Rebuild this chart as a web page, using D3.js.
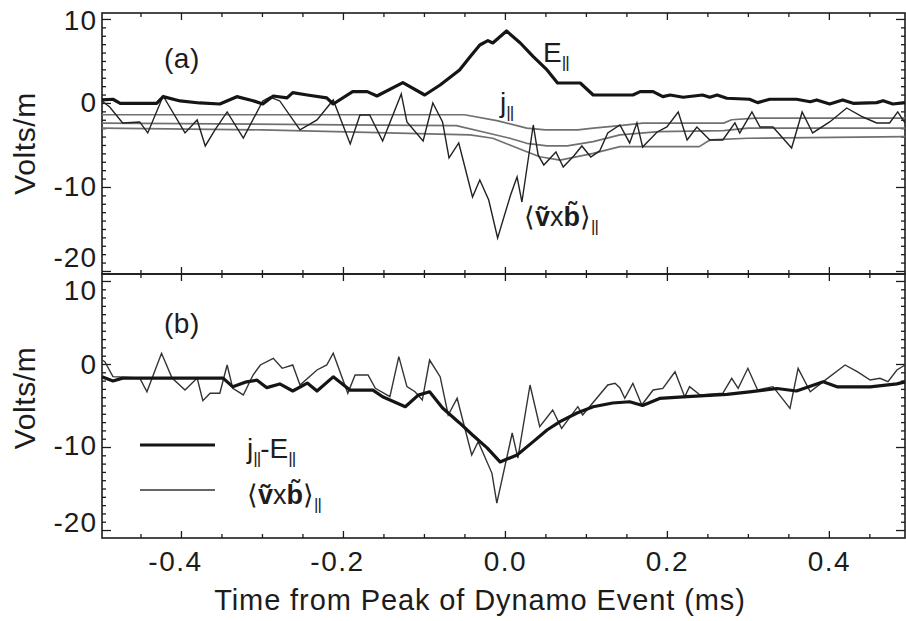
<!DOCTYPE html>
<html><head><meta charset="utf-8">
<script src="https://cdn.jsdelivr.net/npm/d3@7"></script>
<style>
body{margin:0;background:#fff}
svg{display:block}
text{font-family:"Liberation Sans",Arial,Helvetica,sans-serif;fill:#1c1c1c}
</style>
</head><body>
<svg id="c" width="906" height="621"></svg>
<script>
// ---- data: [time (ms), Volts/m] ----
const ePar = [[-0.4975,0.36],[-0.484,0.44],[-0.475,-0.04],[-0.43,-0.04],[-0.422,0.75],[-0.401,0.24],[-0.377,0],[-0.352,-0.12],[-0.331,0.75],[-0.311,0.27],[-0.299,-0.12],[-0.286,0.83],[-0.269,0.6],[-0.262,1.23],[-0.244,0.95],[-0.22,0.6],[-0.212,-0.12],[-0.188,1.35],[-0.17,1.35],[-0.158,0.83],[-0.126,2.42],[-0.099,0.95],[-0.08,2.14],[-0.056,3.93],[-0.043,5.51],[-0.031,6.9],[-0.021,7.42],[-0.015,7.14],[0.002,8.57],[0.019,7.14],[0.035,5.51],[0.052,3.93],[0.065,2.38],[0.093,2.38],[0.109,0.95],[0.158,0.95],[0.167,1.35],[0.183,1.35],[0.195,0.75],[0.204,0.95],[0.22,0.68],[0.244,0.95],[0.253,0.68],[0.262,0.95],[0.274,0.56],[0.302,0.44],[0.312,0.04],[0.327,0.44],[0.36,0.44],[0.377,0.15],[0.385,0.36],[0.401,-0.12],[0.417,0.36],[0.43,-0.04],[0.459,0.04],[0.467,0.27],[0.479,-0.12],[0.494,0.04]];

const jPar = [[-0.4975,-2.4],[-0.2,-2.6],[-0.06,-2.7],[-0.02,-3.6],[0.006,-4.2],[0.027,-4.8],[0.052,-5.1],[0.077,-5.1],[0.109,-4.6],[0.142,-3.8],[0.19,-3.4],[0.27,-3.3],[0.3,-3.0],[0.494,-3.0]];
const jParUpper = [[-0.4975,-1.4],[-0.05,-1.4],[-0.01,-2.1],[0.027,-3.0],[0.05,-3.2],[0.09,-3.2],[0.109,-3.0],[0.142,-2.7],[0.17,-2.4],[0.27,-2.4],[0.28,-2.0],[0.31,-1.8],[0.494,-1.8]];
const jParLower = [[-0.4975,-3.0],[-0.3,-3.2],[-0.17,-3.5],[-0.043,-3.8],[-0.015,-4.2],[0.006,-5.0],[0.027,-5.8],[0.043,-6.4],[0.068,-6.8],[0.109,-6.0],[0.142,-5.2],[0.24,-5.2],[0.253,-4.4],[0.3,-4.2],[0.494,-4.0]];

const vxbTop = [[-0.4975,0.24],[-0.488,-0.48],[-0.472,-2.38],[-0.451,-2.26],[-0.441,-3.57],[-0.422,0.83],[-0.395,-3.57],[-0.38,-2.02],[-0.37,-5.12],[-0.358,-3.21],[-0.343,-1.07],[-0.323,-4.17],[-0.299,0.24],[-0.29,0.71],[-0.278,0.24],[-0.253,-3.21],[-0.232,-2.02],[-0.212,0.36],[-0.191,-4.88],[-0.179,-1.43],[-0.167,-1.43],[-0.151,-4.52],[-0.128,1.07],[-0.121,-2.26],[-0.101,-4.52],[-0.089,0],[-0.077,-2.26],[-0.069,-6.55],[-0.057,-4.76],[-0.04,-11.19],[-0.031,-9.17],[-0.02,-11.55],[-0.009,-16.07],[0.007,-10.95],[0.015,-8.81],[0.021,-11.79],[0.035,-2.62],[0.041,-6.19],[0.048,-7.38],[0.063,-5.83],[0.072,-7.62],[0.085,-6.31],[0.095,-5.12],[0.106,-6.43],[0.117,-5.71],[0.127,-3.57],[0.142,-2.62],[0.154,-4.76],[0.163,-2.38],[0.17,-5.24],[0.188,-3.45],[0.2,-2.86],[0.214,-1.07],[0.225,-4.4],[0.237,-2.86],[0.253,-4.4],[0.269,-4.4],[0.284,-2.38],[0.29,-3.57],[0.305,-1.07],[0.315,-2.86],[0.331,-2.86],[0.354,-5.36],[0.367,-1.07],[0.38,-3.57],[0.401,-2.26],[0.422,-0.6],[0.442,-1.67],[0.459,-2.38],[0.475,-2.38],[0.485,-1.07],[0.494,-2.38]];

const jMinusE = [[-0.4975,-1.55],[-0.484,-2.05],[-0.472,-1.7],[-0.435,-1.7],[-0.405,-1.7],[-0.348,-1.7],[-0.336,-2.75],[-0.319,-2.15],[-0.306,-1.95],[-0.294,-2.85],[-0.278,-2.4],[-0.262,-3.25],[-0.244,-2.3],[-0.232,-3.25],[-0.212,-1.55],[-0.191,-3.15],[-0.163,-3.15],[-0.151,-3.95],[-0.123,-5.15],[-0.107,-3.75],[-0.093,-3.35],[-0.077,-5.3],[-0.056,-7.1],[-0.04,-8.55],[-0.022,-10.1],[-0.006,-11.8],[0.015,-10.95],[0.035,-9.35],[0.052,-7.95],[0.068,-6.95],[0.089,-5.9],[0.109,-5.15],[0.133,-4.7],[0.154,-4.55],[0.17,-5.0],[0.191,-4.15],[0.22,-3.95],[0.274,-3.65],[0.302,-3.35],[0.336,-2.95],[0.36,-3.25],[0.393,-2.15],[0.41,-2.75],[0.451,-2.75],[0.484,-2.4],[0.494,-2.15]];

const vxbBottom = [[-0.4975,0.48],[-0.494,0.28],[-0.484,-1.53],[-0.451,-1.69],[-0.442,-3.34],[-0.435,-1.53],[-0.424,1.29],[-0.411,-1.69],[-0.395,-3.13],[-0.38,-1.69],[-0.373,-4.42],[-0.364,-3.53],[-0.352,-3.53],[-0.343,-0.12],[-0.336,-2.93],[-0.323,-3.73],[-0.311,-1.33],[-0.302,-0.12],[-0.286,0.69],[-0.275,-0.52],[-0.262,-0.12],[-0.253,-2.53],[-0.232,-0.72],[-0.22,-0.12],[-0.212,1.29],[-0.194,-3.53],[-0.185,-1.33],[-0.169,-1.33],[-0.16,-2.93],[-0.142,-3.94],[-0.131,0.88],[-0.121,-2.73],[-0.111,-3.34],[-0.102,-4.34],[-0.093,0.48],[-0.08,-1.53],[-0.07,-6.14],[-0.059,-4.13],[-0.041,-10.96],[-0.033,-9.36],[-0.016,-13.17],[-0.01,-16.75],[0.009,-8.31],[0.016,-11.33],[0.031,-2.53],[0.043,-7.55],[0.059,-5.54],[0.07,-7.75],[0.09,-5.14],[0.096,-6.14],[0.127,-2.53],[0.136,-2.33],[0.142,-2.89],[0.148,-4.13],[0.158,-2.33],[0.169,-4.94],[0.183,-3.13],[0.195,-2.93],[0.21,-0.93],[0.222,-3.94],[0.228,-2.73],[0.241,-3.73],[0.269,-3.53],[0.28,-1.72],[0.288,-2.93],[0.3,-0.52],[0.312,-3.13],[0.331,-2.73],[0.352,-5.34],[0.362,-0.52],[0.377,-3.34],[0.393,-2.13],[0.42,-0.12],[0.435,-0.93],[0.451,-1.93],[0.463,-1.72],[0.473,-2.13],[0.484,-0.72],[0.494,-0.12]];

const xMajorTicks = [-0.4, -0.2, 0.0, 0.2, 0.4];
const xTickLabels = ["-0.4", "-0.2", "0.0", "0.2", "0.4"];
const yMajorTicks = [10, 0, -10, -20];
const yTickLabels = ["10", "0", "-10", "-20"];

// ---- layout ----
const svg = d3.select("#c");
const x = d3.scaleLinear().domain([-0.4975, 0.494]).range([102, 905]);
const panels = [
  {y: d3.scaleLinear().domain([-20.36, 10.71]).range([274, 13]), top: 13, bottom: 274, tag: "(a)", tagY: 68,
   labelShift: [2, 0, 0, -13]},
  {y: d3.scaleLinear().domain([-20.96, 10.84]).range([538, 274]), top: 274, bottom: 538, tag: "(b)", tagY: 333,
   labelShift: [10, 1, -1, -7]}
];
const xMinor = d3.range(-0.45, 0.5, 0.05).filter(v => !xMajorTicks.some(m => Math.abs(m - v) < 1e-6));
const yMinor = d3.range(-20, 11, 1).filter(v => v % 10 !== 0);
const ink = "#1c1c1c";
const FONT = "Liberation Sans, Arial, sans-serif";

function styleAxis(g){
  g.select(".domain").remove();
  g.selectAll("line").attr("stroke", ink).attr("stroke-width", 1.3);
}

panels.forEach((p, i) => {
  const y = p.y;
  const L = 102, R = 905;
  svg.append("g").attr("transform", `translate(${L},0)`)
    .call(d3.axisLeft(y).tickValues(yMajorTicks).tickSize(-9).tickPadding(5)
      .tickFormat((d, k) => yTickLabels[k]))
    .call(styleAxis)
    .call(g => g.selectAll("text").attr("font-size", 28).attr("letter-spacing", 1).attr("fill", ink)
      .attr("font-family", FONT).attr("transform", (d, k) => `translate(0,${p.labelShift[k]})`));
  svg.append("g").attr("transform", `translate(${L},0)`)
    .call(d3.axisLeft(y).tickValues(yMinor).tickSize(-4).tickFormat("")).call(styleAxis);
  svg.append("g").attr("transform", `translate(${R},0)`)
    .call(d3.axisRight(y).tickValues(yMajorTicks).tickSize(-9).tickFormat("")).call(styleAxis);
  svg.append("g").attr("transform", `translate(${R},0)`)
    .call(d3.axisRight(y).tickValues(yMinor).tickSize(-4).tickFormat("")).call(styleAxis);
  svg.append("g").attr("transform", `translate(0,${p.bottom})`)
    .call(d3.axisBottom(x).tickValues(xMajorTicks).tickSize(-7)
      .tickFormat(i === 1 ? ((d, k) => xTickLabels[k]) : "").tickPadding(13))
    .call(styleAxis)
    .call(g => g.selectAll("text").attr("font-size", 28).attr("fill", ink).attr("letter-spacing", 1.5)
      .attr("font-family", FONT).attr("dx", d => d < 0 ? -6 : 0));
  svg.append("g").attr("transform", `translate(0,${p.bottom})`)
    .call(d3.axisBottom(x).tickValues(xMinor).tickSize(-4).tickFormat("")).call(styleAxis);
  svg.append("g").attr("transform", `translate(0,${p.top})`)
    .call(d3.axisTop(x).tickValues(xMajorTicks).tickSize(-7).tickFormat("")).call(styleAxis);
  svg.append("g").attr("transform", `translate(0,${p.top})`)
    .call(d3.axisTop(x).tickValues(xMinor).tickSize(-4).tickFormat("")).call(styleAxis);
  svg.append("rect").attr("x", L).attr("y", p.top).attr("width", R - L).attr("height", p.bottom - p.top)
    .attr("fill", "none").attr("stroke", ink).attr("stroke-width", 1.6);
  const cy = (p.top + p.bottom) / 2 - (i === 1 ? 8 : 0);
  svg.append("text").attr("transform", `translate(35,${cy}) rotate(-90)`)
    .attr("text-anchor", "middle").attr("font-size", 30).attr("letter-spacing", 0.6).text("Volts/m");
  svg.append("text").attr("x", 164).attr("y", p.tagY).attr("font-size", 28).attr("letter-spacing", 0.5).text(p.tag);
});

const line = y => d3.line().x(d => x(d[0])).y(d => y(d[1]));
const yA = panels[0].y, yB = panels[1].y;

// panel (a)
[jParUpper, jPar, jParLower].forEach(s => {
  svg.append("path").datum(s).attr("d", line(yA)).attr("fill", "none")
    .attr("stroke", "#707070").attr("stroke-width", 1.7).attr("stroke-linejoin", "round");
});
svg.append("path").datum(vxbTop).attr("d", line(yA)).attr("fill", "none")
  .attr("stroke", "#222").attr("stroke-width", 1.4);
svg.append("path").datum(ePar).attr("d", line(yA)).attr("fill", "none")
  .attr("stroke", "#151515").attr("stroke-width", 3.2).attr("stroke-linejoin", "round");

// panel (b)
svg.append("path").datum(vxbBottom).attr("d", line(yB)).attr("fill", "none")
  .attr("stroke", "#333").attr("stroke-width", 1.4);
svg.append("path").datum(jMinusE).attr("d", line(yB)).attr("fill", "none")
  .attr("stroke", "#151515").attr("stroke-width", 3.2).attr("stroke-linejoin", "round");

function par(g, xx, yy, parts, size){
  const t = g.append("text").attr("x", xx).attr("y", yy).attr("font-size", size);
  parts.forEach(pt => {
    const s = t.append("tspan").text(pt.t);
    if (pt.b) s.attr("font-weight", "bold");
    if (pt.sub) s.attr("font-size", size * 0.62).attr("dy", size * 0.22).attr("letter-spacing", -1);
    if (pt.up) s.attr("dy", -size * 0.22);
  });
  return t;
}
const vxbParts = [{t:"⟨"},{t:"ṽ", b:true},{t:"x"},{t:"b̃", b:true},{t:"⟩"},{t:"||", sub:true}];
par(svg, 543, 62, [{t:"E"},{t:"||", sub:true}], 28);
par(svg, 500, 112, [{t:"j"},{t:"||", sub:true}], 28);
par(svg, 524, 226, vxbParts, 27);

// legend
svg.append("line").attr("x1", 140).attr("x2", 215).attr("y1", 445).attr("y2", 445).attr("stroke", "#151515").attr("stroke-width", 3.2);
svg.append("line").attr("x1", 140).attr("x2", 215).attr("y1", 490).attr("y2", 490).attr("stroke", "#333").attr("stroke-width", 1.4);
par(svg, 247, 458, [{t:"j"},{t:"||", sub:true},{t:"-E", up:true},{t:"||", sub:true}], 28);
par(svg, 247, 504, vxbParts, 27);

svg.append("text").attr("x", 480).attr("y", 610).attr("text-anchor", "middle")
  .attr("font-size", 29).attr("letter-spacing", 0.9).text("Time from Peak of Dynamo Event (ms)");
</script>
</body></html>
